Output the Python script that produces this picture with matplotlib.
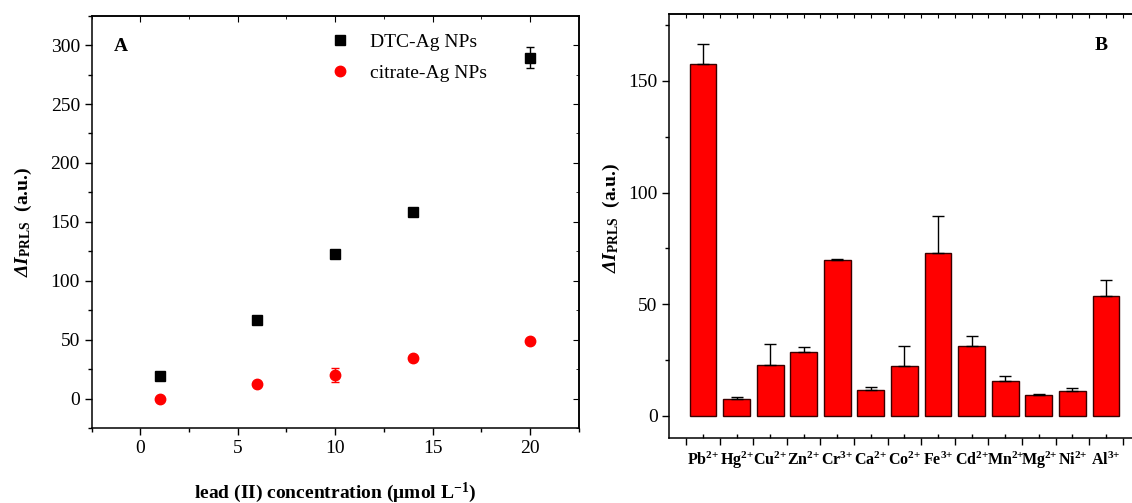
import matplotlib
matplotlib.use("Agg")
import matplotlib.pyplot as plt
from matplotlib.lines import Line2D
import numpy as np

# ---- data: panel A ----
conc = [1, 6, 10, 14, 20]
dtc = [19, 66.5, 123, 158, 289.5]
dtc_err = [1, 1, 1, 1, 9]
citrate = [0, 12.5, 20, 34.5, 49]
citrate_err = [1, 1.5, 6, 1, 1]

# ---- data: panel B ----
ions = ["Pb", "Hg", "Cu", "Zn", "Cr", "Ca", "Co", "Fe", "Cd", "Mn", "Mg", "Ni", "Al"]
charges = ["2", "2", "2", "2", "3", "2", "2", "3", "2", "2", "2", "2", "3"]
ion_values = [157.7, 7.5, 22.7, 28.8, 69.8, 11.7, 22.5, 73.0, 31.2, 15.5, 9.4, 11.0, 53.7]
ion_errors = [8.8, 0.9, 9.7, 2.2, 0.4, 1.4, 9.0, 16.7, 4.8, 2.5, 0.3, 1.7, 7.2]

plt.rcParams["font.family"] = ["Liberation Serif", "DejaVu Serif"]
plt.rcParams["mathtext.fontset"] = "custom"
plt.rcParams["mathtext.rm"] = "Liberation Serif"
plt.rcParams["mathtext.it"] = "Liberation Serif:italic"
plt.rcParams["mathtext.bf"] = "Liberation Serif:bold"
plt.rcParams["mathtext.bfit"] = "Liberation Serif:bold:italic"
plt.rcParams["axes.linewidth"] = 1.1

fig = plt.figure(figsize=(11.32, 5.03), dpi=100)

# ---------- Panel A ----------
axA = fig.add_axes([0.081, 0.1491, 0.4302, 0.8197])
axA.errorbar(conc, dtc, yerr=dtc_err, fmt="s", color="black", ms=6.5,
             ecolor="black", elinewidth=1, capsize=3)
axA.errorbar(conc, citrate, yerr=citrate_err, fmt="o", color="red", ms=7.5,
             ecolor="red", elinewidth=1, capsize=3)
axA.set_xlim(-2.5, 22.5)
axA.set_ylim(-25, 325)
axA.set_xticks([0, 5, 10, 15, 20])
axA.set_xticks(np.arange(-2.5, 22.6, 2.5), minor=True)
axA.set_yticks([0, 50, 100, 150, 200, 250, 300])
axA.set_yticks(np.arange(-25, 326, 25), minor=True)
axA.tick_params(axis="both", which="major", direction="out", length=5, width=1,
                labelsize=14, top=False, right=False)
axA.tick_params(axis="both", which="minor", direction="out", length=3, width=1,
                top=False, right=False)
secx = axA.secondary_xaxis("top")
secx.set_xticks([0, 5, 10, 15, 20])
secx.set_xticks(np.arange(-2.5, 22.6, 2.5), minor=True)
secx.tick_params(which="major", direction="in", length=4, labeltop=False)
secx.tick_params(which="minor", direction="in", length=2)
secy = axA.secondary_yaxis("right")
secy.set_yticks([0, 50, 100, 150, 200, 250, 300])
secy.set_yticks(np.arange(-25, 326, 25), minor=True)
secy.tick_params(which="major", direction="in", length=4, labelright=False)
secy.tick_params(which="minor", direction="in", length=2)

axA.set_xlabel(r"lead (II) concentration (μmol L$^{\mathbf{-1}}$)",
               fontsize=14, fontweight="bold", labelpad=17)
axA.set_ylabel(r"$\mathbfit{ΔI}_{\mathbf{PRLS}}$  (a.u.)", fontsize=14,
               fontweight="bold", labelpad=12)
handles = [Line2D([], [], marker="s", color="black", ls="none", ms=6.5),
           Line2D([], [], marker="o", color="red", ls="none", ms=7.5)]
axA.legend(handles, ["DTC-Ag NPs", "citrate-Ag NPs"], loc="upper left",
           bbox_to_anchor=(0.455, 1.0), frameon=False, fontsize=14,
           handletextpad=1.0, labelspacing=0.7, handlelength=1.0)
axA.text(0.045, 0.925, "A", transform=axA.transAxes, fontsize=14,
         fontweight="bold", ha="left", va="center")

# ---------- Panel B ----------
axB = fig.add_axes([0.5913, 0.1286, 0.4154, 0.8441])
xpos = np.arange(len(ions))
axB.bar(xpos, ion_values, width=0.8, color="#ff0000", edgecolor="#3a0000",
        linewidth=1.0, zorder=2)
axB.errorbar(xpos, ion_values, yerr=[np.zeros(len(ion_errors)), ion_errors],
             fmt="none", ecolor="black", elinewidth=1, capsize=4, capthick=1,
             zorder=3)
axB.set_xlim(-1, 13)
axB.set_ylim(-10, 180)
axB.set_yticks([0, 50, 100, 150])
axB.set_yticks(np.arange(0, 180, 25), minor=True)
axB.set_xticks(xpos)
axB.set_xticklabels([r"$\mathbf{%s}^{\mathbf{%s{+}}}$" % (n, c)
                     for n, c in zip(ions, charges)], fontsize=11.5)
for lbl in axB.get_xticklabels():
    lbl.set_verticalalignment("baseline")
axB.set_xticks(np.arange(-0.5, 13, 1.0), minor=True)
axB.tick_params(axis="x", which="major", direction="in", length=3, width=1, pad=19)
axB.tick_params(axis="x", which="minor", direction="out", length=5, width=1)
axB.tick_params(axis="y", which="major", direction="out", length=5, width=1,
                labelsize=14)
axB.tick_params(axis="y", which="minor", direction="out", length=3, width=1)
secxB = axB.secondary_xaxis("top")
secxB.set_xticks(np.arange(-0.5, 13, 0.5))
secxB.tick_params(which="major", direction="in", length=3, labeltop=False)
axB.set_ylabel(r"$\mathbfit{ΔI}_{\mathbf{PRLS}}$  (a.u.)", fontsize=14,
               fontweight="bold")
axB.yaxis.set_label_coords(-0.1, 0.52)
axB.text(0.905, 0.925, "B", transform=axB.transAxes, fontsize=14,
         fontweight="bold", ha="left", va="center")

fig.savefig("out.png", dpi=100)
